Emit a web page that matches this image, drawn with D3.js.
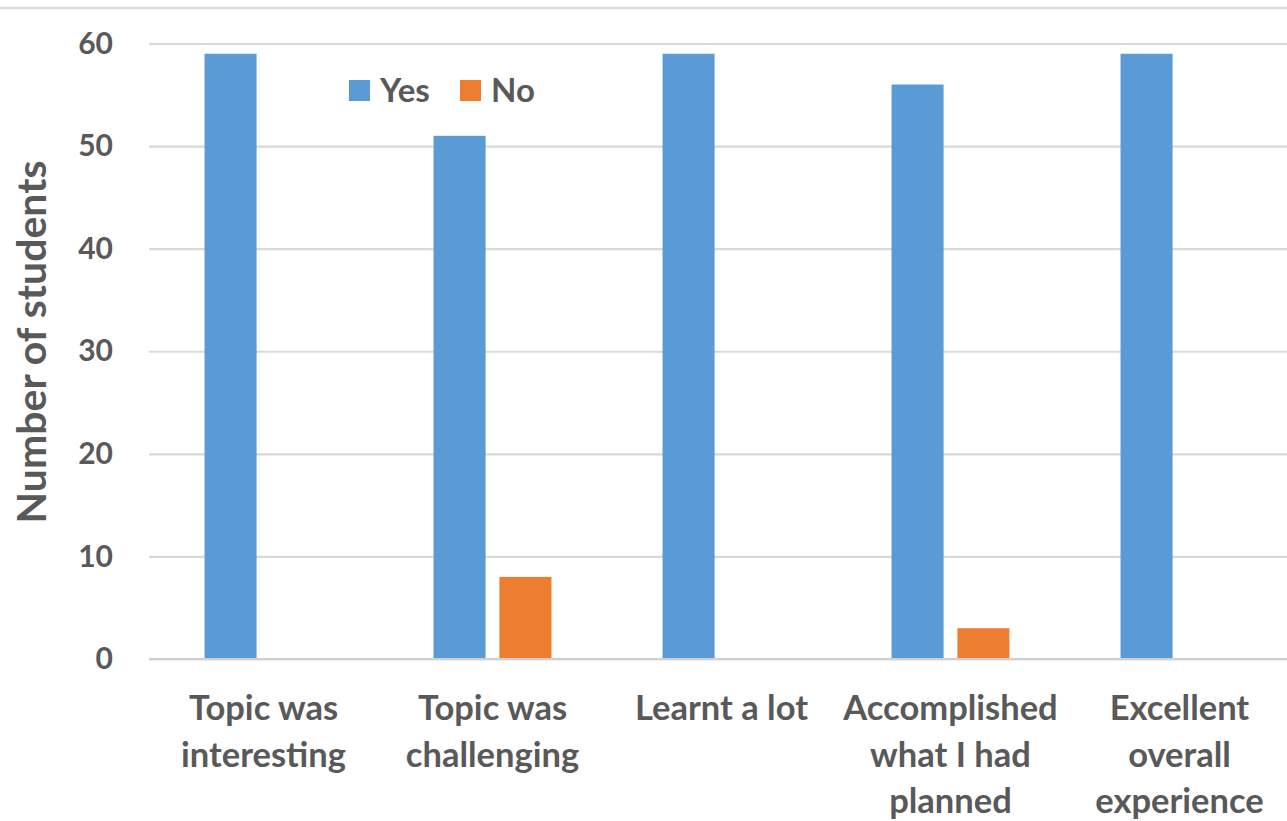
<!DOCTYPE html>
<html>
<head>
<meta charset="utf-8">
<script src="https://cdn.jsdelivr.net/npm/d3@7"></script>
<style>
  html, body { margin: 0; padding: 0; background: #fff; }
  svg { display: block; }
  text { font-family: Lato, "Open Sans", sans-serif; font-weight: bold; fill: #595959; }
</style>
</head>
<body>
<svg id="chart" width="1287" height="821"></svg>
<script>
const categories = ["Topic was interesting", "Topic was challenging", "Learnt a lot", "Accomplished what I had planned", "Excellent overall experience"];
const categoryLines = [["Topic was", "interesting"], ["Topic was", "challenging"], ["Learnt a lot"], ["Accomplished", "what I had", "planned"], ["Excellent", "overall", "experience"]];
const seriesNames = ["Yes", "No"];
const yesValues = [59, 51, 59, 56, 59];
const noValues = [0, 8, 0, 3, 0];
const yTicks = [0, 10, 20, 30, 40, 50, 60];
const colors = ["#5b9bd5", "#ed7d31"];
const yTitle = "Number of students";

const svg = d3.select("#chart");
const W = 1287, H = 821;
const mLeft = 149, mRight = 1294, mTop = 43.5, mBottom = 659;

const x0 = d3.scaleBand().domain(categories).range([mLeft, mRight]).paddingInner(0.485).paddingOuter(0.2425);
const x1 = d3.scaleBand().domain(seriesNames).range([0, x0.bandwidth()]).paddingInner(0.21);
const y = d3.scaleLinear().domain([0, 60]).range([mBottom, mTop]);
const color = d3.scaleOrdinal().domain(seriesNames).range(colors);

// top border
svg.append("line").attr("x1", 0).attr("x2", W).attr("y1", 8).attr("y2", 8)
  .attr("stroke", "#d9d9d9").attr("stroke-width", 2.5);

// gridlines + y axis labels
const yAxis = d3.axisLeft(y).tickValues(yTicks).tickSize(-(W - mLeft)).tickPadding(36).tickFormat(d3.format("d"));
const gy = svg.append("g").attr("transform", `translate(${mLeft},0)`).call(yAxis);
gy.select(".domain").remove();
gy.selectAll(".tick line").attr("stroke", "#d9d9d9").attr("stroke-width", 2.2);
gy.selectAll(".tick text").attr("font-size", 30).attr("fill", "#595959")
  .style("font-family", "Lato, sans-serif").style("font-weight", "bold");

// bars
const data = categories.map((c, i) => ({ cat: c, values: [{ s: "Yes", v: yesValues[i] }, { s: "No", v: noValues[i] }] }));
const groups = svg.append("g").selectAll("g").data(data).join("g")
  .attr("transform", d => `translate(${x0(d.cat)},0)`);
groups.selectAll("rect").data(d => d.values.filter(e => e.v > 0)).join("rect")
  .attr("x", d => x1(d.s))
  .attr("width", x1.bandwidth())
  .attr("y", d => y(d.v))
  .attr("height", d => y(0) - y(d.v))
  .attr("fill", d => color(d.s));

// baseline
svg.append("line").attr("x1", mLeft).attr("x2", W).attr("y1", y(0)).attr("y2", y(0))
  .attr("stroke", "#d0d0d0").attr("stroke-width", 2.2);

// x labels
const xl = svg.append("g");
categories.forEach((c, i) => {
  const cx = x0(c) + x0.bandwidth() / 2;
  const t = xl.append("text").attr("text-anchor", "middle").attr("font-size", 34.5);
  categoryLines[i].forEach((ln, j) => {
    t.append("tspan").attr("x", cx).attr("y", 720 + j * 46.5).text(ln);
  });
});

// y title
svg.append("text").attr("transform", `translate(46,342) rotate(-90)`)
  .attr("text-anchor", "middle").attr("font-size", 41).text(yTitle);

// legend
const legendX = [349, 460];
seriesNames.forEach((s, i) => {
  svg.append("rect").attr("x", legendX[i]).attr("y", 80).attr("width", 21).attr("height", 21).attr("fill", colors[i]);
  svg.append("text").attr("x", legendX[i] + 31).attr("y", 102).attr("font-size", 33).text(s);
});
</script>
</body>
</html>
